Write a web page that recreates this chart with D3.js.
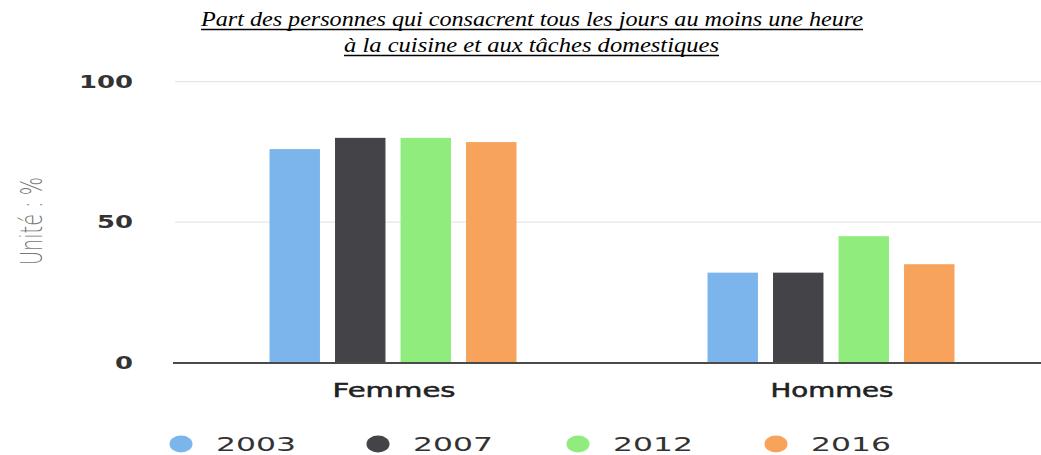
<!DOCTYPE html>
<html>
<head>
<meta charset="utf-8">
<script src="https://cdn.jsdelivr.net/npm/d3@7"></script>
<style>
  html, body { margin: 0; padding: 0; background: #fff; }
  svg { display: block; }
</style>
</head>
<body>
<svg id="chart" width="1041" height="455"></svg>
<script>
const categories = ["Femmes", "Hommes"];
const years = ["2003", "2007", "2012", "2016"];
const values2003 = [76, 32];
const values2007 = [80, 32];
const values2012 = [80, 45];
const values2016 = [78.5, 35];
const yTicks = [0, 50, 100];
const titleLines = [
  "Part des personnes qui consacrent tous les jours au moins une heure",
  "à la cuisine et aux tâches domestiques"
];
const yLabel = "Unité : %";

const seriesValues = { "2003": values2003, "2007": values2007, "2012": values2012, "2016": values2016 };
const colors = { "2003": "#7cb5ec", "2007": "#434348", "2012": "#90ed7d", "2016": "#f7a35c" };

const svg = d3.select("#chart");

const plotLeft = 174, plotRight = 1050, plotTop = 81.7, plotBottom = 362.5;

const y = d3.scaleLinear().domain([0, 100]).range([plotBottom, plotTop]);
const x0 = d3.scaleBand().domain(categories).range([plotLeft, plotRight]);
const x1 = d3.scaleBand().domain(years).range([0, x0.bandwidth()]).paddingInner(0.23).paddingOuter(1.458);

// Title
const titleSpecs = [
  { x1: 201, x2: 863, y: 26 },
  { x1: 344, x2: 719, y: 52 }
];
titleLines.forEach((t, i) => {
  const s = titleSpecs[i];
  svg.append("text")
    .attr("x", s.x1).attr("y", s.y)
    .attr("textLength", s.x2 - s.x1)
    .attr("lengthAdjust", "spacingAndGlyphs")
    .style("font-family", "'Liberation Serif', 'Times New Roman', serif")
    .style("font-style", "italic")
    .style("font-size", "20px")
    .style("fill", "#000")
    .text(t);
  svg.append("line")
    .attr("x1", s.x1).attr("x2", s.x2)
    .attr("y1", s.y + 3.5).attr("y2", s.y + 3.5)
    .attr("stroke", "#000").attr("stroke-width", 1.3);
});

// Grid lines
svg.append("g").selectAll("line")
  .data(yTicks.filter(d => d > 0))
  .join("line")
  .attr("x1", plotLeft + 1).attr("x2", plotRight)
  .attr("y1", d => y(d)).attr("y2", d => y(d))
  .attr("stroke", "#e6e6e6").attr("stroke-width", 1.2);

// Y tick labels
svg.append("g").selectAll("text")
  .data(yTicks)
  .join("text")
  .attr("x", 133)
  .attr("y", d => y(d) + 6)
  .attr("text-anchor", "end")
  .attr("textLength", d => String(d).length * 18)
  .attr("lengthAdjust", "spacingAndGlyphs")
  .style("font-family", "'DejaVu Sans', Verdana, sans-serif")
  .style("font-weight", "bold")
  .style("font-size", "17px")
  .style("fill", "#333")
  .text(d => d);

// Y axis title
svg.append("text")
  .attr("transform", "translate(31,221) scale(1.75,1) rotate(-90)")
  .attr("text-anchor", "middle")
  .attr("dy", "0.36em")
  .attr("textLength", 88)
  .attr("lengthAdjust", "spacingAndGlyphs")
  .style("font-family", "'DejaVu Sans', Verdana, sans-serif")
  .style("font-weight", "300")
  .style("font-size", "17px")
  .style("fill", "#777")
  .text(yLabel);

// Bars
const groups = svg.append("g").selectAll("g")
  .data(categories)
  .join("g")
  .attr("transform", d => `translate(${x0(d)},0)`);

groups.selectAll("rect")
  .data((c, ci) => years.map(yr => ({ yr, v: seriesValues[yr][ci] })))
  .join("rect")
  .attr("x", d => x1(d.yr))
  .attr("width", x1.bandwidth())
  .attr("y", d => y(d.v))
  .attr("height", d => y(0) - y(d.v))
  .attr("fill", d => colors[d.yr]);

// X axis line
svg.append("line")
  .attr("x1", plotLeft - 1).attr("x2", plotRight)
  .attr("y1", plotBottom + 0.5).attr("y2", plotBottom + 0.5)
  .attr("stroke", "#4a4a4a").attr("stroke-width", 2.2);

// Category labels
svg.append("g").selectAll("text")
  .data(categories)
  .join("text")
  .attr("x", d => x0(d) + x0.bandwidth() / 2 + 1)
  .attr("y", 397)
  .attr("text-anchor", "middle")
  .attr("textLength", 123)
  .attr("lengthAdjust", "spacingAndGlyphs")
  .style("font-family", "'DejaVu Sans', Verdana, sans-serif")
  .style("font-size", "19px")
  .style("fill", "#222")
  .style("stroke", "#222")
  .style("stroke-width", "0.5px")
  .text(d => d);

// Legend
const legendX = [181, 378, 578, 776];
const legend = svg.append("g").selectAll("g")
  .data(years)
  .join("g")
  .attr("transform", (d, i) => `translate(${legendX[i]},444)`);
legend.append("ellipse")
  .attr("rx", 11.5).attr("ry", 8.5)
  .attr("fill", d => colors[d]);
legend.append("text")
  .attr("x", 35)
  .attr("y", 7)
  .attr("textLength", 80)
  .attr("lengthAdjust", "spacingAndGlyphs")
  .style("font-family", "'DejaVu Sans', Verdana, sans-serif")
  .style("font-size", "20px")
  .style("fill", "#333")
  .text(d => d);
</script>
</body>
</html>
